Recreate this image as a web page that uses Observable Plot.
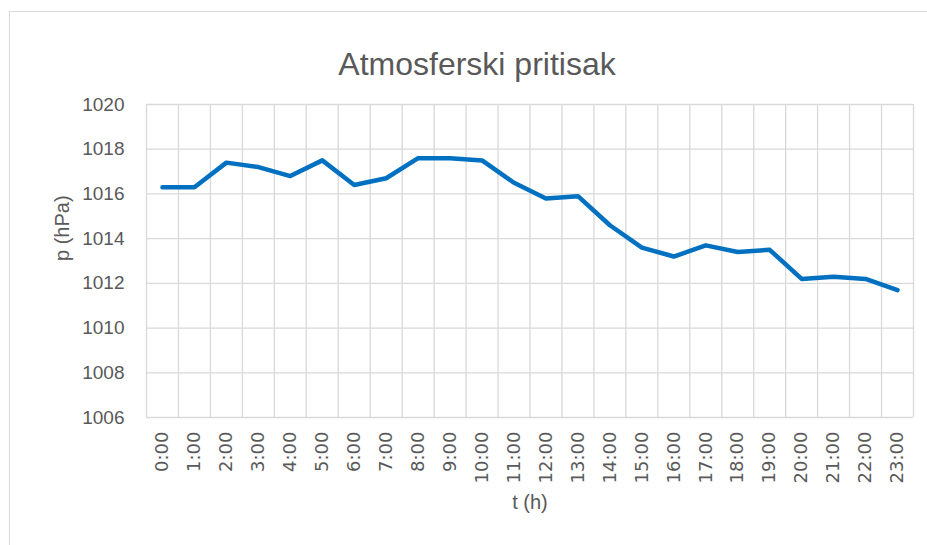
<!DOCTYPE html>
<html>
<head>
<meta charset="utf-8">
<script src="https://cdn.jsdelivr.net/npm/d3@7"></script>
<script src="https://cdn.jsdelivr.net/npm/@observablehq/plot@0.6"></script>
<style>
  html, body { margin: 0; padding: 0; background: #fff; }
  #wrap { position: relative; width: 927px; height: 545px; overflow: hidden; }
  #border { position: absolute; left: 9px; top: 11px; width: 940px; height: 560px; border: 1px solid #d9d9d9; box-sizing: border-box; }
  #chart { position: absolute; left: 0; top: 0; }
</style>
</head>
<body>
<div id="wrap"><div id="border"></div><div id="chart"></div></div>
<script>
const title = "Atmosferski pritisak";
const xTitle = "t (h)";
const yTitle = "p (hPa)";
const hours = ["0:00","1:00","2:00","3:00","4:00","5:00","6:00","7:00","8:00","9:00","10:00","11:00",
               "12:00","13:00","14:00","15:00","16:00","17:00","18:00","19:00","20:00","21:00","22:00","23:00"];
const pressure = [1016.3, 1016.3, 1017.4, 1017.2, 1016.8, 1017.5, 1016.4, 1016.7, 1017.6, 1017.6, 1017.5, 1016.5,
                  1015.8, 1015.9, 1014.6, 1013.6, 1013.2, 1013.7, 1013.4, 1013.5, 1012.2, 1012.3, 1012.2, 1011.7];
const yTicks = [1006, 1008, 1010, 1012, 1014, 1016, 1018, 1020];

const idx = hours.map((h, i) => i);
const bandEdges = d3.range(hours.length + 1).map(i => i - 0.5);
const textColor = "#595959";
const gridColor = "#d9d9d9";

const chart = Plot.plot({
  width: 927,
  height: 545,
  marginTop: 104,
  marginLeft: 146,
  marginRight: 14,
  marginBottom: 128,
  style: { background: "transparent", color: textColor },
  x: { type: "linear", domain: [-0.5, hours.length - 0.5] },
  y: { domain: [1006, 1020] },
  marks: [
    Plot.ruleY(yTicks, { stroke: gridColor, strokeWidth: 1.3, strokeOpacity: 1 }),
    Plot.ruleX(bandEdges, { stroke: gridColor, strokeWidth: 1.3, strokeOpacity: 1 }),
    Plot.axisY(yTicks, {
      tickSize: 0, tickPadding: 22, label: null, tickFormat: d => String(d),
      fontSize: 19, fontFamily: "Liberation Sans, Arial, sans-serif", fill: textColor
    }),
    Plot.axisX(idx, {
      tickSize: 0, tickPadding: 14, tickRotate: -90, label: null,
      tickFormat: i => hours[i],
      fontSize: 18, fontFamily: "DejaVu Sans, sans-serif", fill: textColor
    }),
    Plot.line(pressure, {
      x: (d, i) => i, y: d => d,
      stroke: "#0070C0", strokeWidth: 4.5, strokeLinejoin: "round", strokeLinecap: "round"
    }),
    Plot.text([title], {
      text: d => d, frameAnchor: "top", dy: -52, dx: -53,
      fontSize: 32, fontFamily: "Liberation Sans, Arial, sans-serif", fill: textColor
    }),
    Plot.text([yTitle], {
      text: d => d, frameAnchor: "left", dx: -84, rotate: -90,
      fontSize: 20, fontFamily: "Liberation Sans, Arial, sans-serif", fill: textColor
    }),
    Plot.text([xTitle], {
      text: d => d, frameAnchor: "bottom", dy: 91,
      fontSize: 20, fontFamily: "Liberation Sans, Arial, sans-serif", fill: textColor
    })
  ]
});
document.getElementById("chart").appendChild(chart);
</script>
</body>
</html>
